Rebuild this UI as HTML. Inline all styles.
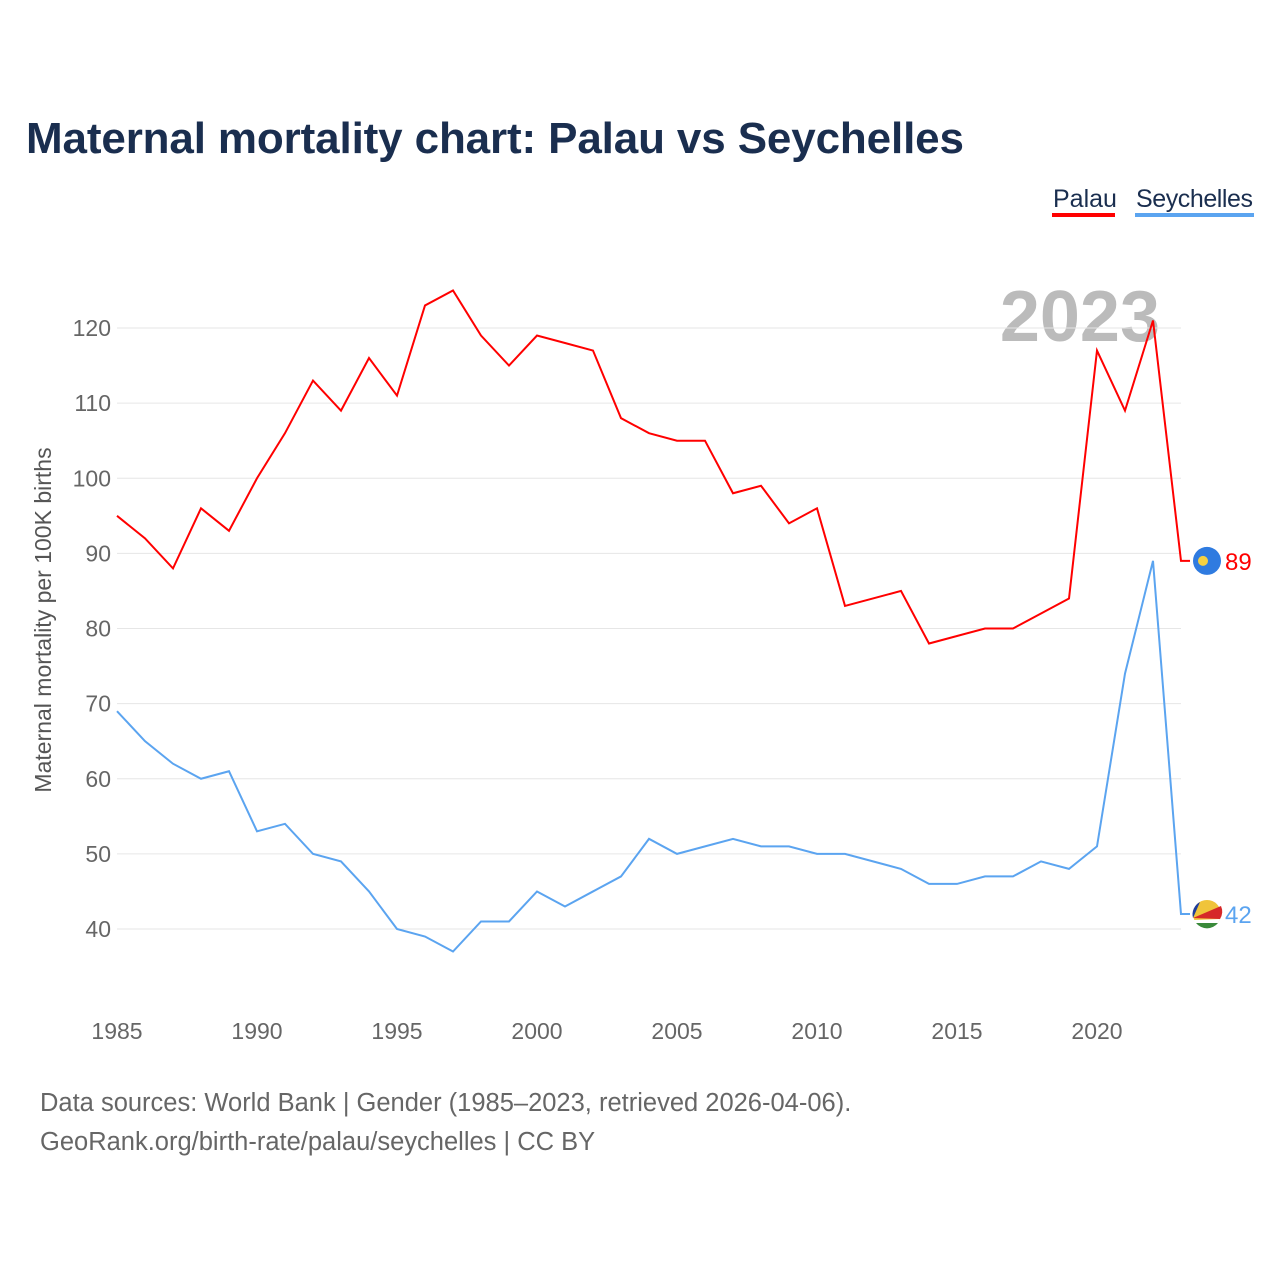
<!DOCTYPE html>
<html><head><meta charset="utf-8"><style>
body{margin:0;background:#fff;font-family:"Liberation Sans",sans-serif}
</style></head><body>
<svg id="chart" width="1280" height="1280" xmlns="http://www.w3.org/2000/svg" style="font-family:'Liberation Sans',sans-serif">
<rect width="1280" height="1280" fill="#fff"/>
<text x="26" y="153" font-size="44" font-weight="bold" fill="#1a2e4f" textLength="938">Maternal mortality chart: Palau vs Seychelles</text>
<g><text x="1053" y="207" font-size="25" fill="#1a2e4f">Palau</text><rect x="1052" y="213" width="63" height="4" fill="#f00"/></g>
<g><text x="1136" y="207" font-size="25" fill="#1a2e4f" textLength="117">Seychelles</text><rect x="1135" y="213" width="119" height="4" fill="#5ba4f0"/></g>
<text x="1160" y="341" font-size="72" font-weight="bold" fill="#bbb" text-anchor="end">2023</text>
<text transform="translate(51,620) rotate(-90)" font-size="23" fill="#555" text-anchor="middle">Maternal mortality per 100K births</text>
<g id="grid"></g><g id="xt"></g><g id="series"></g>
<text x="40" y="1111" font-size="25.5" fill="#666">Data sources: World Bank | Gender (1985–2023, retrieved 2026-04-06).</text>
<text x="40" y="1150" font-size="25.5" fill="#666">GeoRank.org/birth-rate/palau/seychelles | CC BY</text>
</svg>
<script>
const years=[];for(let y=1985;y<=2023;y++)years.push(y);
const palau=[95,92,88,96,93,100,106,113,109,116,111,123,125,119,115,119,118,117,108,106,105,105,98,99,94,96,83,84,85,78,79,80,80,82,84,117,109,121,89];
const seychelles=[69,65,62,60,61,53,54,50,49,45,40,39,37,41,41,45,43,45,47,52,50,51,52,51,51,50,50,49,48,46,46,47,47,49,48,51,74,89,42];
const yTicks=[40,50,60,70,80,90,100,110,120];
const xTicks=[1985,1990,1995,2000,2005,2010,2015,2020];
const NS="http://www.w3.org/2000/svg";
const X=v=>117+(v-1985)*28, Y=v=>929-(v-40)*7.5125;
function mk(t,a,p){const e=document.createElementNS(NS,t);for(const k in a)e.setAttribute(k,a[k]);p.appendChild(e);return e;}
const g=document.getElementById('grid');
yTicks.forEach(t=>{
 const l=mk('line',{x1:117,x2:1181,y1:Y(t),y2:Y(t),stroke:'#e6e6e6','stroke-width':1},g);
 
 
 const tx=mk('text',{x:111,y:Y(t)+8,'font-size':23,fill:'#666','text-anchor':'end'},g);tx.textContent=t;
 
 
});
const xt=document.getElementById('xt');
xTicks.forEach(t=>{
 const tx=mk('text',{x:X(t),y:1039,'font-size':23,fill:'#666','text-anchor':'middle'},xt);tx.textContent=t;
 
 
});
const s=document.getElementById('series');
function line(data,color,name,flag){
 const last=data[data.length-1];
 const p=mk('path',{d:data.map((v,i)=>(i?'L':'M')+X(years[i])+','+Y(v)).join('')+'H'+(X(2023)+9),fill:'none',stroke:color,'stroke-width':2},s);
 
 
 const c=mk('circle',{cx:1207,cy:Y(last),r:14,fill:flag},s);
 
 
 const t=mk('text',{x:1225,y:Y(last)+9,'font-size':24,fill:color},s);t.textContent=last;
 
 
}
line(palau,'#f00','palau','#2f7be0');
line(seychelles,'#5ba4f0','seychelles','#f0c43a');
mk('circle',{cx:1203,cy:Y(89),r:5,fill:'#f5d142'},s);
const yS=Y(42);
mk('path',{d:`M1193,${yS+4}L1221,${yS-8}A14,14 0 0 1 1220,${yS+5}Z`,fill:'#d62828'},s);
mk('path',{d:`M1194,${yS+6}L1220,${yS+5}A14,14 0 0 1 1194,${yS+6}Z`,fill:'#fff'},s);
mk('path',{d:`M1196,${yS+9}A14,14 0 0 0 1218,${yS+9}Z`,fill:'#3a8a3a'},s);
mk('path',{d:`M1193,${yS+4}L1200,${yS-12}A14,14 0 0 0 1193,${yS+4}Z`,fill:'#1f3c9a'},s);
</script>
</body></html>
